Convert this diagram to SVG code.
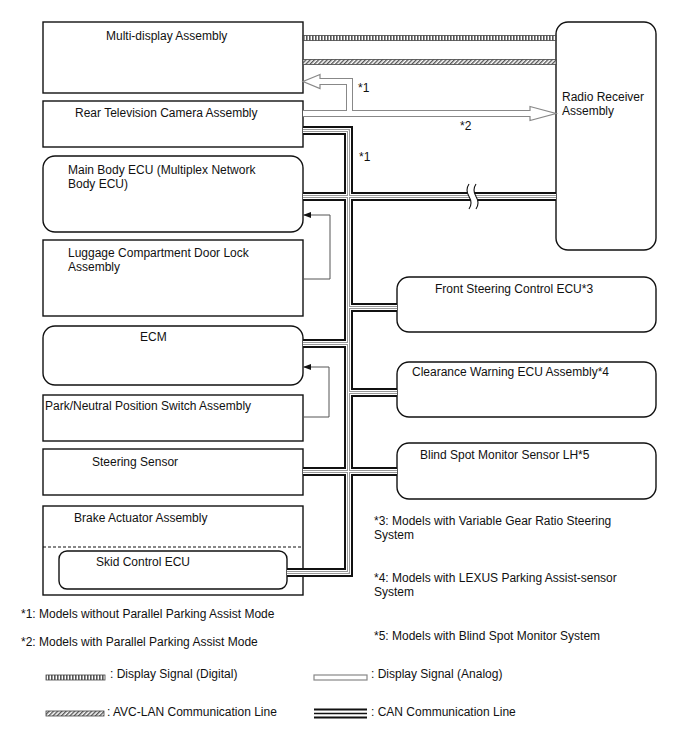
<svg xmlns="http://www.w3.org/2000/svg" width="688" height="755" viewBox="0 0 688 755">
<style>
text{font-family:"Liberation Sans",Arial,sans-serif;font-size:12px;fill:#111}
.box{fill:#fff;stroke:#111;stroke-width:1.4}
.c1{fill:none;stroke:#111;stroke-width:9}
.c2{fill:none;stroke:#fff;stroke-width:5}
.c3{fill:none;stroke:#999;stroke-width:3}
.c4{fill:none;stroke:#fff;stroke-width:1}
.a1{fill:none;stroke:#888;stroke-width:7}
.a2{fill:none;stroke:#fff;stroke-width:5}
.ah{fill:#fff;stroke:#888;stroke-width:1.2}
.fb{fill:none;stroke:#555;stroke-width:1}
</style>
<defs>
<pattern id="dig" width="3" height="6" patternUnits="userSpaceOnUse">
<rect width="3" height="6" fill="#fff"/>
<rect width="1.6" height="6" fill="#555"/>
</pattern>
<pattern id="avc" width="3" height="3" patternUnits="userSpaceOnUse" patternTransform="rotate(45)">
<rect width="3" height="3" fill="#fff"/>
<rect width="1.4" height="3" fill="#555"/>
</pattern>
<marker id="arr" markerWidth="8" markerHeight="6" refX="7" refY="3" orient="auto" markerUnits="userSpaceOnUse">
<path d="M0,0 L8,3 L0,6 Z" fill="#111"/>
</marker>
</defs>

<g id="multi-display"><rect class="box" x="43" y="22" width="260" height="71"/><text x="106" y="40">Multi-display Assembly</text></g>
<g id="rear-camera"><rect class="box" x="43" y="101" width="260" height="46"/><text x="75" y="117">Rear Television Camera Assembly</text></g>
<g id="main-body-ecu"><rect class="box" x="43" y="156" width="260" height="76" rx="12"/><text x="68" y="174">Main Body ECU (Multiplex Network</text><text x="68" y="188">Body ECU)</text></g>
<g id="luggage"><rect class="box" x="43" y="240" width="260" height="76"/><text x="68" y="257">Luggage Compartment Door Lock</text><text x="68" y="271">Assembly</text></g>
<g id="ecm"><rect class="box" x="43" y="326" width="260" height="59" rx="12"/><text x="140" y="341">ECM</text></g>
<g id="park-neutral"><rect class="box" x="43" y="395" width="260" height="46"/><text x="45" y="410">Park/Neutral Position Switch Assembly</text></g>
<g id="steering-sensor"><rect class="box" x="43" y="449" width="260" height="46"/><text x="92" y="466">Steering Sensor</text></g>
<g id="brake-actuator"><rect class="box" x="43" y="506" width="260" height="89"/><text x="74" y="522">Brake Actuator Assembly</text><line x1="43" y1="547" x2="303" y2="547" stroke="#111" stroke-width="1.2" stroke-dasharray="3,2"/></g>
<g id="skid-control-ecu"><rect class="box" x="59" y="551" width="228" height="38" rx="8"/><text x="96" y="566">Skid Control ECU</text></g>
<g id="radio-receiver"><rect class="box" x="556" y="22" width="100" height="228" rx="12"/><text x="562" y="101">Radio Receiver</text><text x="562" y="115">Assembly</text></g>
<g id="front-steering"><rect class="box" x="397" y="277" width="259" height="55" rx="12"/><text x="435" y="293">Front Steering Control ECU*3</text></g>
<g id="clearance-warning"><rect class="box" x="397" y="362" width="259" height="55" rx="12"/><text x="412" y="376">Clearance Warning ECU Assembly*4</text></g>
<g id="blind-spot"><rect class="box" x="397" y="443" width="259" height="56" rx="12"/><text x="420" y="459">Blind Spot Monitor Sensor LH*5</text></g>

<g id="connectors">
<rect x="303" y="35.5" width="253" height="5" fill="url(#dig)" stroke="#444" stroke-width="0.8"/>
<rect x="303" y="59.5" width="253" height="5" fill="url(#avc)" stroke="#444" stroke-width="0.8"/>
<polygon class="ah" points="530,106.5 556,113.5 530,120.5"/>
<polygon class="ah" points="320,74.5 303,81.5 320,88.5"/>
<path class="a1" d="M303,113.5 H530 M349.5,113.5 V81.5 H320"/>
<path class="a2" d="M303,113.5 H531.5 M349.5,113.5 V81.5 H318.5"/>
<g>
<path class="c1" d="M303,130.5 H348.5 V572.5 H287 M303,196.5 H556 M348.5,307.5 H397 M303,343.5 H348.5 M348.5,392.5 H397 M303,471.5 H397"/>
<path class="c2" d="M303,130.5 H348.5 V572.5 H287 M303,196.5 H556 M348.5,307.5 H397 M303,343.5 H348.5 M348.5,392.5 H397 M303,471.5 H397"/>
<path class="c3" d="M303,130.5 H348.5 V572.5 H287 M303,196.5 H556 M348.5,307.5 H397 M303,343.5 H348.5 M348.5,392.5 H397 M303,471.5 H397"/>
<path class="c4" d="M303,130.5 H348.5 V572.5 H287 M303,196.5 H556 M348.5,307.5 H397 M303,343.5 H348.5 M348.5,392.5 H397 M303,471.5 H397"/>
</g>
<path d="M469,184 Q465,190 469,196.5 T469,209 H476 Q480,203 476,196.5 Q472,190 476,184 Z" fill="#fff"/>
<path d="M469,184 Q465,190 469,196.5 T469,209 M476,184 Q472,190 476,196.5 T476,209" fill="none" stroke="#111" stroke-width="1.1"/>
<path class="fb" d="M303,279 H330 V215 H304" marker-end="url(#arr)"/>
<path class="fb" d="M303,417 H329 V367 H304" marker-end="url(#arr)"/>
</g>

<g id="labels">
<text x="358" y="92">*1</text>
<text x="460" y="130">*2</text>
<text x="359" y="161">*1</text>
<text x="374" y="525">*3: Models with Variable Gear Ratio Steering</text>
<text x="374" y="539">System</text>
<text x="374" y="582">*4: Models with LEXUS Parking Assist-sensor</text>
<text x="374" y="596">System</text>
<text x="374" y="640">*5: Models with Blind Spot Monitor System</text>
<text x="21" y="618">*1: Models without Parallel Parking Assist Mode</text>
<text x="21" y="646">*2: Models with Parallel Parking Assist Mode</text>
</g>

<g id="legend">
<rect x="46" y="675" width="59" height="5" fill="url(#dig)" stroke="#444" stroke-width="0.8"/>
<text x="110" y="678">: Display Signal (Digital)</text>
<rect x="314" y="675" width="53" height="5" fill="#fff" stroke="#888" stroke-width="1.2"/>
<text x="371" y="678">: Display Signal (Analog)</text>
<rect x="46" y="711" width="58" height="5" fill="url(#avc)" stroke="#444" stroke-width="0.8"/>
<text x="107" y="716">: AVC-LAN Communication Line</text>
<line x1="314" y1="709.5" x2="367" y2="709.5" stroke="#111" stroke-width="2.2"/>
<line x1="314" y1="713.5" x2="367" y2="713.5" stroke="#111" stroke-width="1.6"/>
<line x1="314" y1="717.5" x2="367" y2="717.5" stroke="#111" stroke-width="2.2"/>
<text x="371" y="716">: CAN Communication Line</text>
</g>
</svg>
